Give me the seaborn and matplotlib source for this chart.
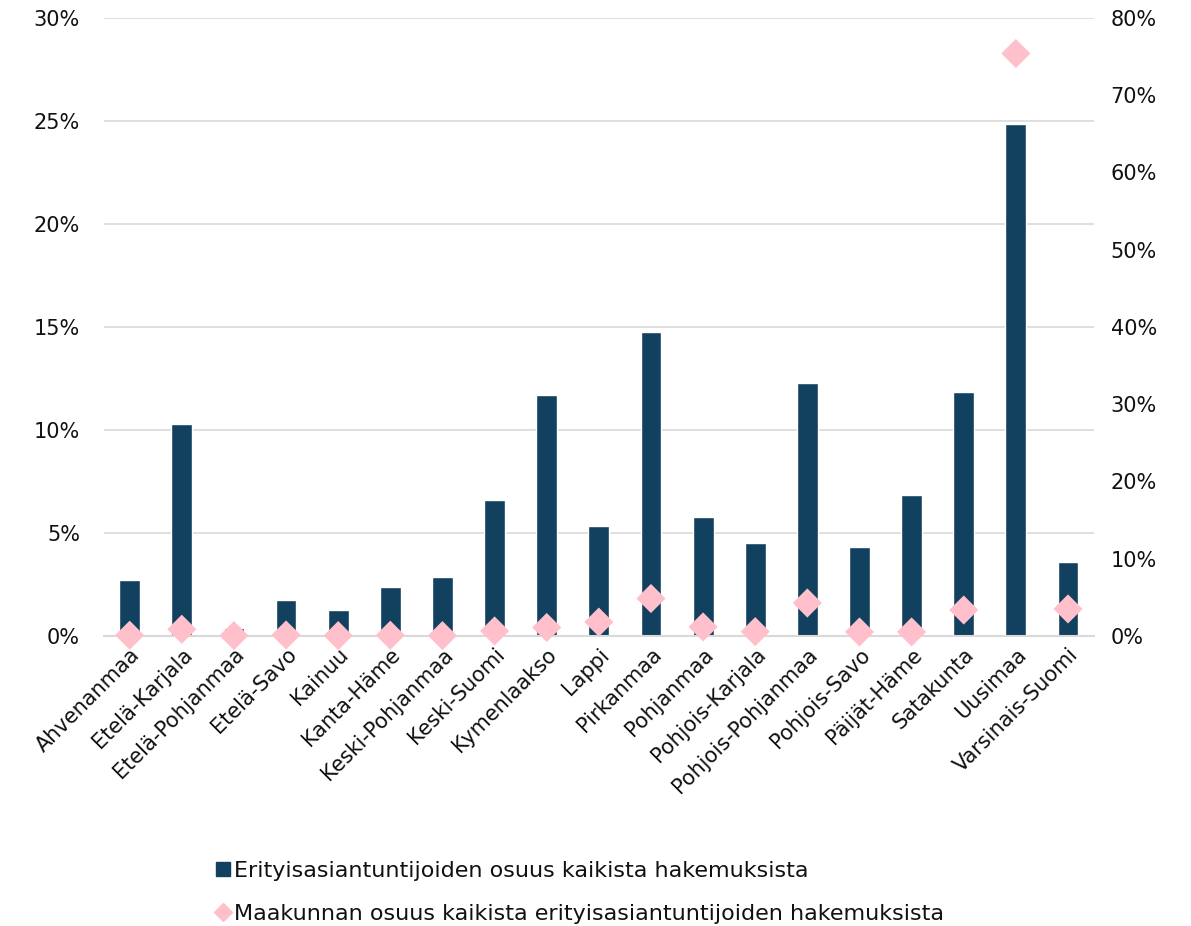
import matplotlib
matplotlib.use("Agg")
import matplotlib.pyplot as plt
import seaborn as sns
import pandas as pd
from matplotlib.lines import Line2D
from matplotlib.ticker import PercentFormatter

# Data
regions = ["Ahvenanmaa", "Etelä-Karjala", "Etelä-Pohjanmaa", "Etelä-Savo", "Kainuu",
           "Kanta-Häme", "Keski-Pohjanmaa", "Keski-Suomi", "Kymenlaakso", "Lappi",
           "Pirkanmaa", "Pohjanmaa", "Pohjois-Karjala", "Pohjois-Pohjanmaa",
           "Pohjois-Savo", "Päijät-Häme", "Satakunta", "Uusimaa", "Varsinais-Suomi"]
share_of_applications = [2.7, 10.3, 0.4, 1.75, 1.26, 2.38, 2.86, 6.6, 11.7, 5.34,
                         14.76, 5.78, 4.51, 12.28, 4.32, 6.84, 11.84, 24.85, 3.59]
share_of_experts = [0.1, 0.87, 0.05, 0.13, 0.05, 0.1, 0.05, 0.65, 1.1, 1.8,
                    4.85, 1.17, 0.56, 4.27, 0.52, 0.52, 3.36, 75.4, 3.5]
bar_label = "Erityisasiantuntijoiden osuus kaikista hakemuksista"
diamond_label = "Maakunnan osuus kaikista erityisasiantuntijoiden hakemuksista"

bar_color = "#12415f"
pink = "#ffc0cb"

df = pd.DataFrame({"region": regions, "bars": share_of_applications,
                   "diamonds": share_of_experts})

sns.set_theme(style="white")
plt.rcParams["font.family"] = ["DejaVu Sans"]
plt.rcParams["text.color"] = "#111111"

fig = plt.figure(figsize=(11.91, 9.26), dpi=100)
ax = fig.add_axes([0.087, 0.3132, 0.8316, 0.6674])

sns.barplot(data=df, x="region", y="bars", color=bar_color, width=0.4,
            saturation=1, ax=ax)
ax.set_ylim(0, 30)
ax.set_yticks(range(0, 31, 5))
ax.yaxis.set_major_formatter(PercentFormatter(decimals=0))
ax.grid(axis="y", color="#d9d9d9", linewidth=1.2)
ax.set_axisbelow(True)
ax.set_xlabel("")
ax.set_ylabel("")
for s in ["top", "right", "left"]:
    ax.spines[s].set_visible(False)
ax.spines["bottom"].set_color("#d9d9d9")
ax.spines["bottom"].set_linewidth(1.5)
ax.tick_params(axis="y", labelsize=15, length=0, pad=17, labelcolor="#111111")
ax.tick_params(axis="x", labelsize=15, length=0, pad=6, labelcolor="#111111")
plt.setp(ax.get_xticklabels(), rotation=45, ha="right", rotation_mode="anchor")

ax2 = ax.twinx()
sns.scatterplot(data=df, x="region", y="diamonds", marker="D", s=220,
                color=pink, edgecolor="none", ax=ax2, zorder=5, clip_on=False)
ax2.set_ylim(0, 80)
ax2.set_yticks(range(0, 81, 10))
ax2.yaxis.set_major_formatter(PercentFormatter(decimals=0))
ax2.set_ylabel("")
for s in ["top", "right", "left", "bottom"]:
    ax2.spines[s].set_visible(False)
ax2.tick_params(axis="y", labelsize=15, length=0, pad=12, labelcolor="#111111")
ax.set_xlim(-0.5, len(regions) - 0.5)

handles = [Line2D([], [], marker="s", linestyle="none", color=bar_color, markersize=10),
           Line2D([], [], marker="D", linestyle="none", color=pink, markersize=9)]
fig.legend(handles, [bar_label, diamond_label], loc="upper left",
           bbox_to_anchor=(0.174, 0.08), bbox_transform=fig.transFigure,
           frameon=False, fontsize=16, handlelength=0.6, handletextpad=0.2,
           labelspacing=1.05, borderaxespad=0)

fig.savefig("out.png", dpi=100)
